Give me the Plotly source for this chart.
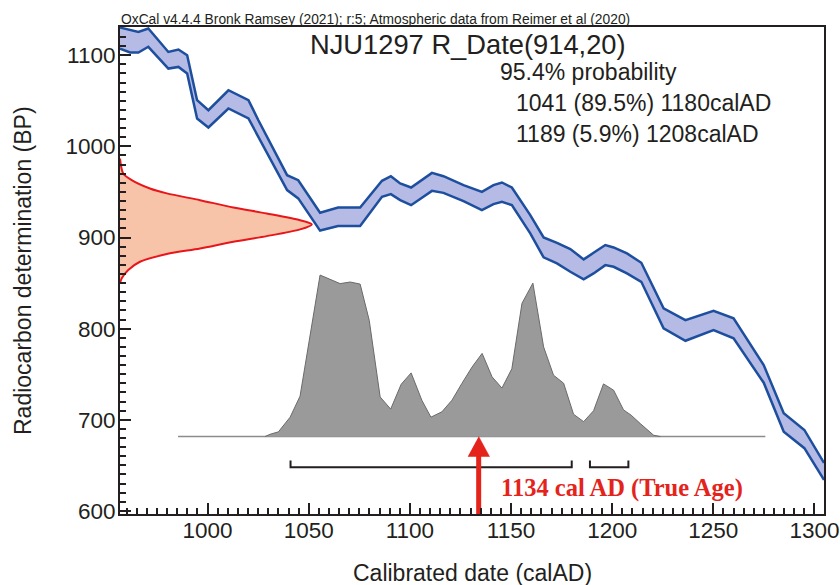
import plotly.graph_objects as go

# ---------------- data ----------------
cal_years = [956.7, 961.7, 965.8, 970.7, 980.6, 985.6, 989.9, 994.8, 1000.4, 1010.3,
             1020.2, 1025.1, 1039.3, 1044.8, 1055.6, 1064.5, 1075.4, 1086.2, 1090.6, 1095.2,
             1100.6, 1110.9, 1116.6, 1126.5, 1135.6, 1141.3, 1145.5, 1150.4, 1159.5, 1166.1,
             1172.7, 1179.3, 1185.9, 1190.8, 1196.6, 1200.7, 1207.3, 1214.4, 1225.4, 1236.2,
             1250.1, 1260.0, 1274.9, 1284.8, 1295.0, 1304.7]
cal_upper = [1130.4, 1127.4, 1125.5, 1129.3, 1103.6, 1106.3, 1100.0, 1050.7, 1039.7, 1061.6,
             1050.7, 1028.7, 968.4, 962.9, 927.1, 933.0, 933.0, 962.2, 967.3, 959.3,
             954.9, 970.9, 967.3, 957.5, 950.1, 957.5, 960.4, 954.9, 924.6, 900.1,
             894.2, 887.3, 876.0, 883.2, 891.7, 889.1, 882.6, 872.3, 822.3, 809.4,
             819.6, 811.3, 760.1, 707.1, 688.8, 652.6]
cal_lower = [1107.1, 1103.0, 1103.0, 1109.3, 1085.4, 1087.2, 1079.9, 1030.6, 1020.7, 1041.6,
             1030.6, 1010.4, 952.0, 942.9, 907.6, 912.5, 912.5, 944.6, 947.6, 941.0,
             935.5, 951.2, 949.0, 939.9, 930.0, 936.6, 939.1, 935.5, 904.5, 878.2,
             871.6, 862.4, 854.1, 860.6, 869.7, 867.9, 860.6, 851.4, 800.3, 786.7,
             798.5, 789.4, 740.7, 687.0, 668.8, 634.0]

# radiocarbon date R_Date(914,20): BP values and relative density
r_bp = [986.7, 970.3, 963.0, 953.8, 948.4, 941.0, 933.0, 926.4, 919.0, 914.4,
        908.9, 901.5, 895.3, 888.0, 881.8, 873.4, 864.3, 855.2, 849.7]
r_density = [0.0, 0.017, 0.061, 0.156, 0.244, 0.417, 0.591, 0.765, 0.939, 1.0,
             0.939, 0.765, 0.591, 0.417, 0.244, 0.104, 0.043, 0.009, 0.0]

# calibrated probability distribution
h_years = [1028.4, 1030.9, 1035.0, 1040.8, 1045.7, 1050.7, 1055.6, 1065.5, 1070.5, 1075.4,
           1079.9, 1085.3, 1090.5, 1095.7, 1100.6, 1105.9, 1110.4, 1115.8, 1120.8, 1125.7,
           1130.7, 1135.7, 1140.6, 1145.5, 1150.4, 1155.4, 1160.8, 1166.1, 1171.0, 1176.0,
           1180.9, 1185.9, 1190.8, 1195.7, 1200.7, 1205.6, 1209.4, 1213.9, 1220.5, 1223.8]
h_prob = [0.0, 0.014, 0.029, 0.12, 0.25, 0.62, 1.0, 0.947, 0.957, 0.944,
          0.72, 0.245, 0.17, 0.324, 0.394, 0.225, 0.12, 0.153, 0.225, 0.329,
          0.43, 0.515, 0.37, 0.30, 0.42, 0.825, 0.95, 0.555, 0.38, 0.33,
          0.138, 0.092, 0.16, 0.326, 0.287, 0.165, 0.132, 0.08, 0.008, 0.0]

baseline_span = [985.4, 1275.7]
ranges_95 = [[1041, 1180], [1189, 1208]]
true_age = 1134

header_text = "OxCal v4.4.4 Bronk Ramsey (2021); r:5; Atmospheric data from Reimer et al (2020)"
title_text = "NJU1297 R_Date(914,20)"
prob_lines = ["95.4% probability", "1041 (89.5%) 1180calAD", "1189 (5.9%) 1208calAD"]
true_age_text = "1134 cal AD (True Age)"

# ---------------- styling / layout constants ----------------
x_range = [956.7, 1304.7]
y_range = [596.6, 1131.0]
r_peak_width = 94.8          # horizontal extent of the date density (years)
h_base = 681.6               # baseline of calibrated distribution (BP units)
h_height = 177.2             # height of its maximum (BP units)
bracket_y = 648.0
bracket_tick = 7.2
head_half = 5.35
head_len = 21.9

INK = "#231f20"
BLUE = "#1d4f9e"
BAND = "#b5bbe5"
RED = "#e4231b"
FONT = "Arial, Liberation Sans, sans-serif"

fig = go.Figure()

# calibration band
fig.add_trace(go.Scatter(x=cal_years + cal_years[::-1], y=cal_upper + cal_lower[::-1],
                         fill="toself", fillcolor=BAND, mode="lines", line=dict(width=0),
                         hoverinfo="skip", showlegend=False))
for yv in (cal_upper, cal_lower):
    fig.add_trace(go.Scatter(x=cal_years, y=yv, mode="lines",
                             line=dict(color=BLUE, width=2.5), showlegend=False))

# radiocarbon date density on the y axis
fig.add_trace(go.Scatter(x=[x_range[0] + d * r_peak_width for d in r_density], y=r_bp,
                         fill="toself", fillcolor="#f8c4a9", mode="lines",
                         line=dict(color="#e8161b", width=2, shape="spline", smoothing=0.8),
                         showlegend=False))

# calibrated distribution
fig.add_trace(go.Scatter(x=baseline_span, y=[h_base, h_base], mode="lines",
                         line=dict(color="#8c8c8c", width=1.5), showlegend=False))
fig.add_trace(go.Scatter(x=h_years, y=[h_base + p * h_height for p in h_prob],
                         fill="toself", fillcolor="#9a9a9a", mode="lines",
                         line=dict(color="#6a6a6a", width=1), showlegend=False))

# 95.4% range brackets
bx, by = [], []
for a, b in ranges_95:
    bx += [a, a, b, b, None]
    by += [bracket_y + bracket_tick, bracket_y, bracket_y, bracket_y + bracket_tick, None]
fig.add_trace(go.Scatter(x=bx, y=by, mode="lines", line=dict(color=INK, width=2),
                         showlegend=False))

# true age arrow
fig.add_trace(go.Scatter(x=[true_age, true_age], y=[y_range[0], h_base - head_len + 2],
                         mode="lines", line=dict(color=RED, width=5), showlegend=False))
fig.add_trace(go.Scatter(x=[true_age - head_half, true_age + head_half, true_age],
                         y=[h_base - head_len, h_base - head_len, h_base],
                         fill="toself", fillcolor=RED, mode="lines",
                         line=dict(color=RED, width=0.5), showlegend=False))

ann = []
ann.append(dict(text=header_text, x=-0.001, y=1.0164, xref="paper", yref="paper",
                xanchor="left", yanchor="middle", showarrow=False,
                font=dict(family=FONT, size=13.8, color=INK)))
ann.append(dict(text=title_text, x=0.2666, y=0.9641, xref="paper", yref="paper",
                xanchor="left", yanchor="middle", showarrow=False,
                font=dict(family=FONT, size=27.3, color=INK)))
for txt, xp, yp in zip(prob_lines, [0.5370, 0.5597, 0.5597], [0.9076, 0.844, 0.781]):
    ann.append(dict(text=txt, x=xp, y=yp, xref="paper", yref="paper",
                    xanchor="left", yanchor="middle", showarrow=False,
                    font=dict(family=FONT, size=23, color=INK)))
ann.append(dict(text="<b>" + true_age_text + "</b>", x=0.539, y=0.0544, xref="paper",
                yref="paper", xanchor="left", yanchor="middle", showarrow=False,
                font=dict(family="Liberation Serif, Times New Roman, serif", size=24.5, color=RED)))
ann.append(dict(text="Radiocarbon determination (BP)", x=-0.1385, y=0.5, xref="paper",
                yref="paper", xanchor="center", yanchor="middle", textangle=-90,
                showarrow=False, font=dict(family=FONT, size=23, color=INK)))
ann.append(dict(text="Calibrated date (calAD)", x=0.5, y=-0.1211, xref="paper",
                yref="paper", xanchor="center", yanchor="middle", showarrow=False,
                font=dict(family=FONT, size=23, color=INK)))

axis_common = dict(showline=True, mirror=True, linecolor=INK, linewidth=2,
                   ticks="inside", ticklen=11, tickwidth=2, tickcolor=INK,
                   showgrid=False, zeroline=False, automargin=False,
                   tickfont=dict(family=FONT, size=22.5, color=INK))

fig.update_layout(
    width=840, height=585,
    margin=dict(l=120, r=16, t=27, b=71, autoexpand=False),
    paper_bgcolor="white", plot_bgcolor="white",
    xaxis=dict(range=x_range, tick0=1000, dtick=50, ticklabelstandoff=-5,
               minor=dict(ticks="inside", ticklen=6, tickwidth=1.5, dtick=5, tickcolor=INK),
               **axis_common),
    yaxis=dict(range=y_range, tick0=600, dtick=100, ticklabelstandoff=-2,
               minor=dict(ticks="inside", ticklen=6, tickwidth=1.5, dtick=10, tickcolor=INK),
               **axis_common),
    annotations=ann,
    showlegend=False,
)

fig.write_html("out.html")
